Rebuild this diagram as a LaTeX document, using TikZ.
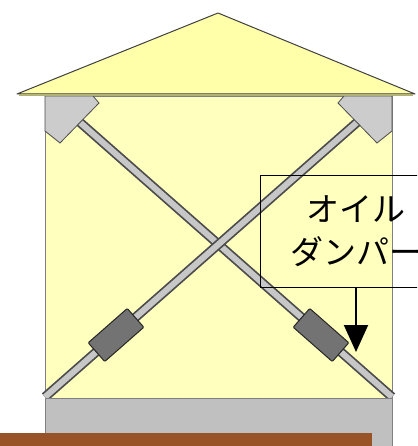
\documentclass[tikz,border=0pt]{standalone}
\usepackage{fontspec}
\newfontfamily\jp{Noto Sans CJK JP}
\usetikzlibrary{arrows.meta}
\definecolor{wallyellow}{HTML}{FFFFBE}
\definecolor{roofyellow}{HTML}{FFFFAA}
\definecolor{basegray}{HTML}{C0C0C0}
\definecolor{ground}{HTML}{985426}
\tikzset{
  rod/.style={line width=9.5pt, draw=black!70},
  rodcore/.style={line width=6pt, draw=black!22},
  bracket/.style={fill=black!20, draw=black!70, line width=0.8pt},
  damper/.style={draw=black!85, fill=black!55, line width=1pt, minimum width=52pt, minimum height=25pt, rounded corners=1pt},
  callout/.style={draw, line width=0.8pt, minimum width=192pt, minimum height=112pt, align=center, font=\jp\fontsize{33}{43}\selectfont}
}
\begin{document}
\begin{tikzpicture}[x=1pt, y=-1pt]
    \useasboundingbox (0,0) rectangle (417,446);
    \clip (0,0) rectangle (417,446);
    \fill[white] (0,0) rectangle (417,446);
    \filldraw[fill=wallyellow, draw=black!50] (45,96) rectangle (392,398);
    % braces
    \draw[rod] (75,118) -- (392,397);
    \draw[rodcore] (75,118) -- (392,397);
    \draw[rod] (362,118) -- (45,397);
    \draw[rodcore] (362,118) -- (45,397);
    \node[damper, rotate=41.3] (dleft) at (116,335) {};
    \node[damper, rotate=-41.3] (dright) at (321,335) {};
    \filldraw[bracket] (45,96) -- (93,96) -- (99,103) -- (60,143) -- (45,131) -- cycle;
    \filldraw[bracket] (392,96) -- (344,96) -- (338,103) -- (377,143) -- (392,131) -- cycle;
    % roof and base
    \filldraw[fill=roofyellow, draw=black!75, line width=1pt, line join=round] (17,94) -- (218,13) -- (415,94) -- cycle;
    \draw[black!30!roofyellow, line width=1.5pt] (19,95) -- (413,95);
    \filldraw[fill=basegray, draw=black!50] (45,398) rectangle (392,450);
    \fill[ground] (0,433) rectangle (372,450);
    \node[callout] (box) at (356,231) {オイル\\ダンパー};
    \coordinate (tip) at (356,352);
    \draw[-{Triangle[length=27pt,width=24pt]}, line width=2pt] (box.south) -- (tip);
\end{tikzpicture}
\end{document}
